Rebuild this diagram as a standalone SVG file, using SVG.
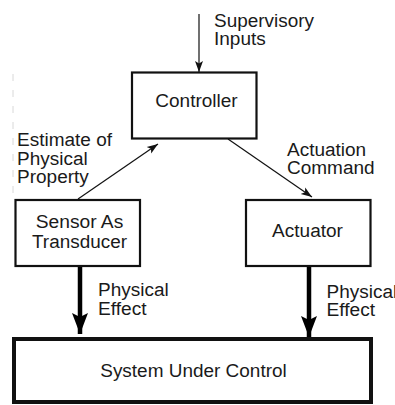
<svg xmlns="http://www.w3.org/2000/svg" width="395" height="405" viewBox="0 0 395 405">
  <style>
    .box { fill: #ffffff; stroke: #111111; stroke-width: 2.2; }
    .box-heavy { fill: #ffffff; stroke: #111111; stroke-width: 4; }
    .label { font-family: "Liberation Sans", Arial, Helvetica, sans-serif; font-size: 18px; fill: #1a1a1a; }
    .centered { text-anchor: middle; }
    .thin { stroke: #111111; stroke-width: 1.2; fill: none; }
    .thick { stroke: #000000; stroke-width: 4.5; fill: none; }
  </style>
  <defs>
    <marker id="arrow-thin" markerUnits="userSpaceOnUse" markerWidth="12" markerHeight="10" viewBox="0 0 12 10" refX="11" refY="5" orient="auto">
      <path d="M0,1 L11,5 L0,9 L2.5,5 Z" fill="#111111"/>
    </marker>
    <marker id="arrow-thick" markerUnits="userSpaceOnUse" markerWidth="22" markerHeight="18" viewBox="0 0 22 18" refX="21" refY="9" orient="auto">
      <path d="M0,1 L21,9 L0,17 L4,9 Z" fill="#000000"/>
    </marker>
  </defs>

  <rect width="395" height="405" fill="#ffffff"/>

  <!-- faint margin rule at left -->
  <line x1="13" y1="74" x2="13" y2="196" stroke="#d8d8d8" stroke-width="1" stroke-dasharray="7,9"/>

  <g id="connectors">
    <line class="thin" x1="199" y1="14" x2="199" y2="72" marker-end="url(#arrow-thin)"/>
    <line class="thin" x1="78" y1="199" x2="158" y2="144" marker-end="url(#arrow-thin)"/>
    <line class="thin" x1="228" y1="139" x2="312" y2="197" marker-end="url(#arrow-thin)"/>
    <line class="thick" x1="80" y1="266" x2="80" y2="334" marker-end="url(#arrow-thick)"/>
    <line class="thick" x1="309" y1="266" x2="309" y2="337" marker-end="url(#arrow-thick)"/>

    <text class="label" x="214" y="26.5" textLength="100" lengthAdjust="spacingAndGlyphs">Supervisory</text>
    <text class="label" x="214" y="45" textLength="51.8" lengthAdjust="spacingAndGlyphs">Inputs</text>
    <text class="label" x="17" y="146" textLength="95" lengthAdjust="spacingAndGlyphs">Estimate of</text>
    <text class="label" x="17" y="164.5" textLength="70.7" lengthAdjust="spacingAndGlyphs">Physical</text>
    <text class="label" x="17" y="183" textLength="71.8" lengthAdjust="spacingAndGlyphs">Property</text>
    <text class="label" x="287" y="155.5" textLength="79.2" lengthAdjust="spacingAndGlyphs">Actuation</text>
    <text class="label" x="287" y="174" textLength="87.6" lengthAdjust="spacingAndGlyphs">Command</text>
    <text class="label" x="98" y="296" textLength="70.7" lengthAdjust="spacingAndGlyphs">Physical</text>
    <text class="label" x="98" y="314.5" textLength="48.6" lengthAdjust="spacingAndGlyphs">Effect</text>
    <text class="label" x="326.5" y="297.5" textLength="70.7" lengthAdjust="spacingAndGlyphs">Physical</text>
    <text class="label" x="326.5" y="316" textLength="48.6" lengthAdjust="spacingAndGlyphs">Effect</text>
  </g>

  <g id="controller">
    <rect class="box" x="132" y="72.5" width="124.5" height="66"/>
    <text class="label centered" x="196.5" y="107" textLength="82.3" lengthAdjust="spacingAndGlyphs">Controller</text>
  </g>

  <g id="sensor">
    <rect class="box" x="15.5" y="200" width="124.5" height="66"/>
    <text class="label centered" x="79.5" y="227.5" textLength="87.6" lengthAdjust="spacingAndGlyphs">Sensor As</text>
    <text class="label centered" x="79.5" y="247.5" textLength="95" lengthAdjust="spacingAndGlyphs">Transducer</text>
  </g>

  <g id="actuator">
    <rect class="box" x="246" y="200" width="124.5" height="66"/>
    <text class="label centered" x="307.5" y="236.5" textLength="70.8" lengthAdjust="spacingAndGlyphs">Actuator</text>
  </g>

  <g id="system">
    <rect class="box-heavy" x="14" y="339" width="357" height="63"/>
    <text class="label centered" x="193.5" y="376.5" textLength="186.5" lengthAdjust="spacingAndGlyphs">System Under Control</text>
  </g>
</svg>
